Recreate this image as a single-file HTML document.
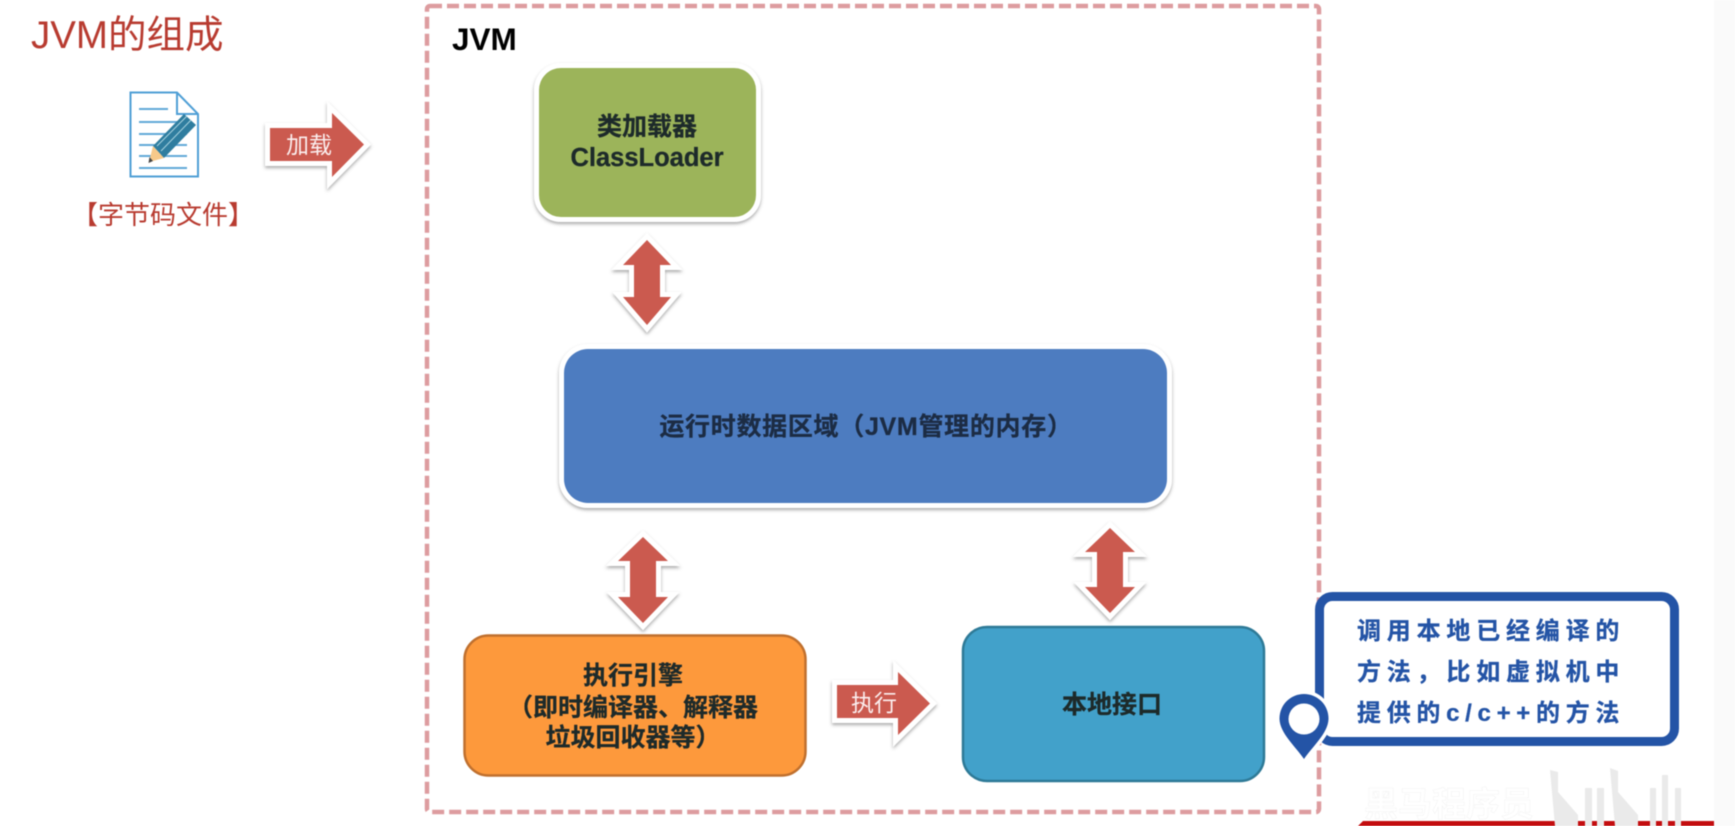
<!DOCTYPE html>
<html lang="zh">
<head>
<meta charset="utf-8">
<title>JVM的组成</title>
<style>
html,body{margin:0;padding:0;background:#fff;}
body{width:1735px;height:826px;overflow:hidden;position:relative;}
svg{position:absolute;left:0;top:0;filter:blur(0.5px);}
text{font-family:"Liberation Sans","Noto Sans CJK SC",sans-serif;}
.b{font-weight:700;fill:#1d2a2a;stroke:#1d2a2a;stroke-width:.3px;font-size:25px;text-anchor:middle;}
.c{font-weight:700;fill:#2454a6;stroke:#2454a6;stroke-width:.3px;font-size:24px;letter-spacing:5.8px;}
</style>
</head>
<body>
<svg width="1735" height="826" viewBox="0 0 1735 826" xmlns="http://www.w3.org/2000/svg">
<defs>
<filter id="s" x="-30%" y="-30%" width="160%" height="160%"><feDropShadow dx="0" dy="2" stdDeviation="1.6" flood-color="#555" flood-opacity=".5"/></filter>
</defs>
<rect width="1735" height="826" fill="#fff"/>
<rect x="1714" y="0" width="21" height="826" fill="#fafafa"/>

<!-- title -->
<text x="31" y="48" font-size="38.500" fill="#b83b30">JVM的组成</text>

<!-- document icon -->
<path d="M130.500 92.500H177L198 114V176.500H130.500Z" fill="#fff" stroke="#4f9fd6" stroke-width="2"/>
<path d="M177 92.500V114H198" fill="none" stroke="#4f9fd6" stroke-width="2"/>
<g stroke="#62a9d8" stroke-width="2">
<path d="M139 109H168M139 122H187M139 134H187M139 145H187M139 156H187M139 168H187" fill="none"/>
</g>
<path d="M153 146L184 114L196 125L164 158Z" fill="#2f7d9f"/>
<path d="M157 146L187 116M161 151L191 120" stroke="#a8d3e0" stroke-width="1"/>
<path d="M153 146L164 158L149 162Z" fill="#f7c98a"/>
<path d="M149.500 157L153 161L148.500 163Z" fill="#444"/>

<text x="163" y="224" font-size="26" fill="#b83b30" text-anchor="middle">【字节码文件】</text>

<!-- right arrows -->
<path d="M270 128H332V113L364 144.500L332 177V161H270Z" fill="#cb5a4f" stroke="#fff" stroke-width="10" stroke-linejoin="miter" stroke-miterlimit="6" filter="url(#s)" paint-order="stroke"/>
<text x="309" y="153" font-size="23" fill="#fbeeee" text-anchor="middle">加载</text>

<path d="M837 685H898V672L930 703.500L898 735V718H837Z" fill="#cb5a4f" stroke="#fff" stroke-width="10" stroke-linejoin="miter" stroke-miterlimit="6" filter="url(#s)" paint-order="stroke"/>
<text x="874" y="711" font-size="23" fill="#fbeeee" text-anchor="middle">执行</text>

<!-- JVM frame -->
<rect x="427" y="6" width="892" height="806" rx="3" fill="none" stroke="#dd9c9f" stroke-width="4.500" stroke-dasharray="12 5"/>
<text x="452" y="50" font-size="31.500" font-weight="700" fill="#000">JVM</text>

<!-- green -->
<rect x="539" y="68" width="217" height="149" rx="22" fill="#9cb45a" stroke="#fff" stroke-width="10" filter="url(#s)" paint-order="stroke"/>
<text x="647" y="135" class="b">类加载器</text>
<text x="647" y="166" class="b" style="font-size:25.500px">ClassLoader</text>

<!-- blue -->
<rect x="564" y="349" width="603" height="154" rx="24" fill="#4d7cc0" stroke="#fff" stroke-width="10" filter="url(#s)" paint-order="stroke"/>
<text x="866" y="435" class="b" style="fill:#1c2c44;stroke:#1c2c44;letter-spacing:.7px">运行时数据区域（JVM管理的内存）</text>

<!-- double arrows -->
<g fill="#cb5a4f" stroke="#fff" stroke-width="10" stroke-linejoin="miter" stroke-miterlimit="6" filter="url(#s)" paint-order="stroke">
<path d="M653 240L677 265H666V297H677L653 325L629 297H640V265H629Z" transform="translate(-6 0)"/>
<path d="M643 537L668 561H656V597H668L643 623L618 597H630V561H618Z"/>
<path d="M1110 528L1135 552H1123V587H1135L1110 613L1085 587H1097V552H1085Z"/>
</g>

<!-- orange -->
<rect x="464.500" y="635.500" width="341" height="140" rx="24" fill="#fd993c" stroke="#c0702e" stroke-width="2.500"/>
<text x="633" y="684" class="b">执行引擎</text>
<text x="633" y="716" class="b">（即时编译器、解释器</text>
<text x="633" y="746" class="b">垃圾回收器等）</text>

<!-- teal -->
<rect x="963" y="627" width="301" height="154" rx="24" fill="#42a1ca" stroke="#2e7a97" stroke-width="2.500"/>
<text x="1112" y="713" class="b">本地接口</text>

<!-- callout -->
<rect x="1319.500" y="596.500" width="355" height="145" rx="13" fill="#fff" stroke="#2454a6" stroke-width="9"/>
<path d="M1304 759C1296 747 1279.500 733 1279.500 718.500A24.500 24.500 0 0 1 1328.500 718.500C1328.500 733 1312 747 1304 759Z" fill="#2454a6" stroke="#fff" stroke-width="7" paint-order="stroke"/>
<circle cx="1304" cy="719" r="15.500" fill="#fff"/>
<text x="1357" y="639" class="c">调用本地已经编译的</text>
<text x="1357" y="680" class="c">方法，比如虚拟机中</text>
<text x="1357" y="721" class="c" style="letter-spacing:5.700px">提供的c/c++的方法</text>

<!-- red band & watermark -->
<path d="M1358 826L1363 821H1714V826Z" fill="#c30d0f"/>
<g fill="#eaeaea">
<path d="M1550 770L1558 772V792L1578 815V826H1555Z"/>
<path d="M1585 788H1592V826H1585ZM1597 788H1604V826H1597Z"/>
<path d="M1610 768L1618 771V792L1638 815V826H1615Z"/>
<path d="M1650 788H1656V826H1650ZM1662 775H1668V826H1662ZM1675 788H1681V826H1675Z" />
</g>
<text x="1449" y="816" font-size="34" fill="#fff" stroke="#f2f2f2" stroke-width=".5" text-anchor="middle" font-weight="700">黑马程序员</text>
</svg>
</body>
</html>
